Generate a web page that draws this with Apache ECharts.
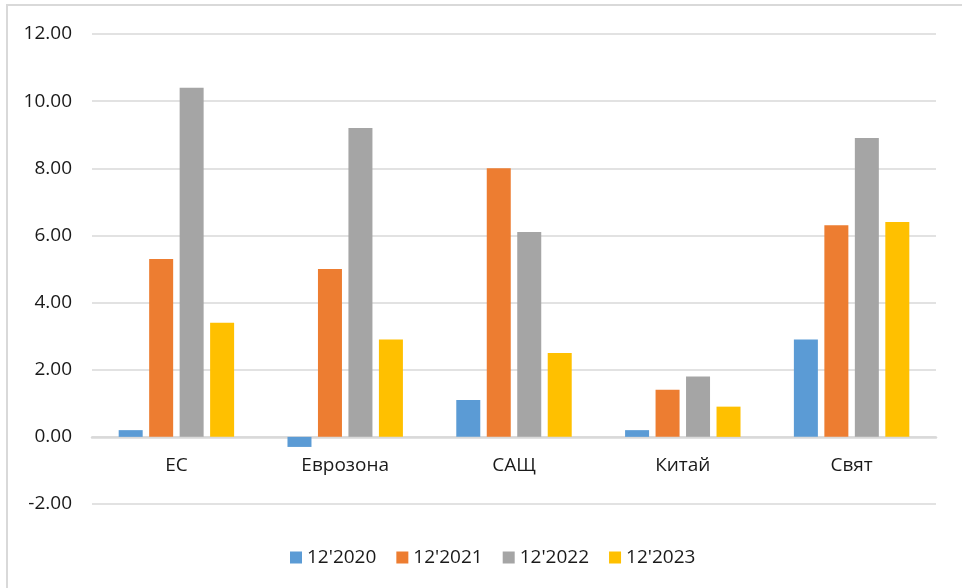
<!DOCTYPE html>
<html>
<head>
<meta charset="utf-8">
<script src="https://cdn.jsdelivr.net/npm/echarts@6/dist/echarts.min.js"></script>
<style>
    html, body {margin: 0; padding: 0; background: #fff;}
    #frame {position: absolute; left: 6px; top: 4px; width: 1000px; height: 700px;
        border-left: 2px solid #d9d9d9; border-top: 2px solid #d9d9d9;}
    #ET1 {position: absolute; left: 0; top: 0; width: 962px; height: 588px;}
</style>
</head>
<body>
<div id="frame"></div>
<div id="ET1"></div>
<script>
// регионите и стойностите по години
var regions = ['ЕС', 'Еврозона', 'САЩ', 'Китай', 'Свят'];
var years = ["12'2020", "12'2021", "12'2022", "12'2023"];
var v2020 = [0.2, -0.3, 1.1, 0.2, 2.9];
var v2021 = [5.3, 5.0, 8.0, 1.4, 6.3];
var v2022 = [10.4, 9.2, 6.1, 1.8, 8.9];
var v2023 = [3.4, 2.9, 2.5, 0.9, 6.4];
var colors = ['#5B9BD5', '#ED7D31', '#A5A5A5', '#FFC000'];

~function () {
    var myChart = echarts.init(document.getElementById('ET1'));
    var font = "'Open Sans', 'Noto Sans', sans-serif";
    var values = [v2020, v2021, v2022, v2023];
    var series = [];
    for (var i = 0; i < years.length; i++) {
        series.push({
            name: years[i],
            type: 'bar',
            barWidth: 24,
            barGap: '27%',
            itemStyle: {color: colors[i]},
            data: values[i]
        });
    }
    var option = {
        animation: false,
        color: colors,
        grid: {left: 92, right: 26, top: 34, bottom: 84},
        legend: {
            data: years,
            left: 285,
            top: 543,
            itemWidth: 12,
            itemHeight: 12,
            itemGap: 20,
            icon: 'rect',
            textStyle: {fontFamily: font, fontSize: 19, color: '#1a1a1a'}
        },
        xAxis: [
            {
                type: 'category',
                data: regions,
                // оста е на нулата, а не на дъното
                offset: -67,
                axisLine: {onZero: false, lineStyle: {color: '#d9d9d9', width: 2.5}},
                axisTick: {show: false},
                axisLabel: {margin: 19, fontFamily: font, fontSize: 19, color: '#1a1a1a'}
            }
        ],
        yAxis: [
            {
                type: 'value',
                min: -2,
                max: 12,
                interval: 2,
                axisLine: {show: false},
                axisTick: {show: false},
                splitLine: {lineStyle: {color: '#d9d9d9', width: 1.5}},
                axisLabel: {
                    margin: 20,
                    fontFamily: font,
                    fontSize: 19,
                    color: '#1a1a1a',
                    formatter: function (v) { return v.toFixed(2); }
                }
            }
        ],
        series: series
    };
    myChart.setOption(option);
}();
</script>
</body>
</html>
